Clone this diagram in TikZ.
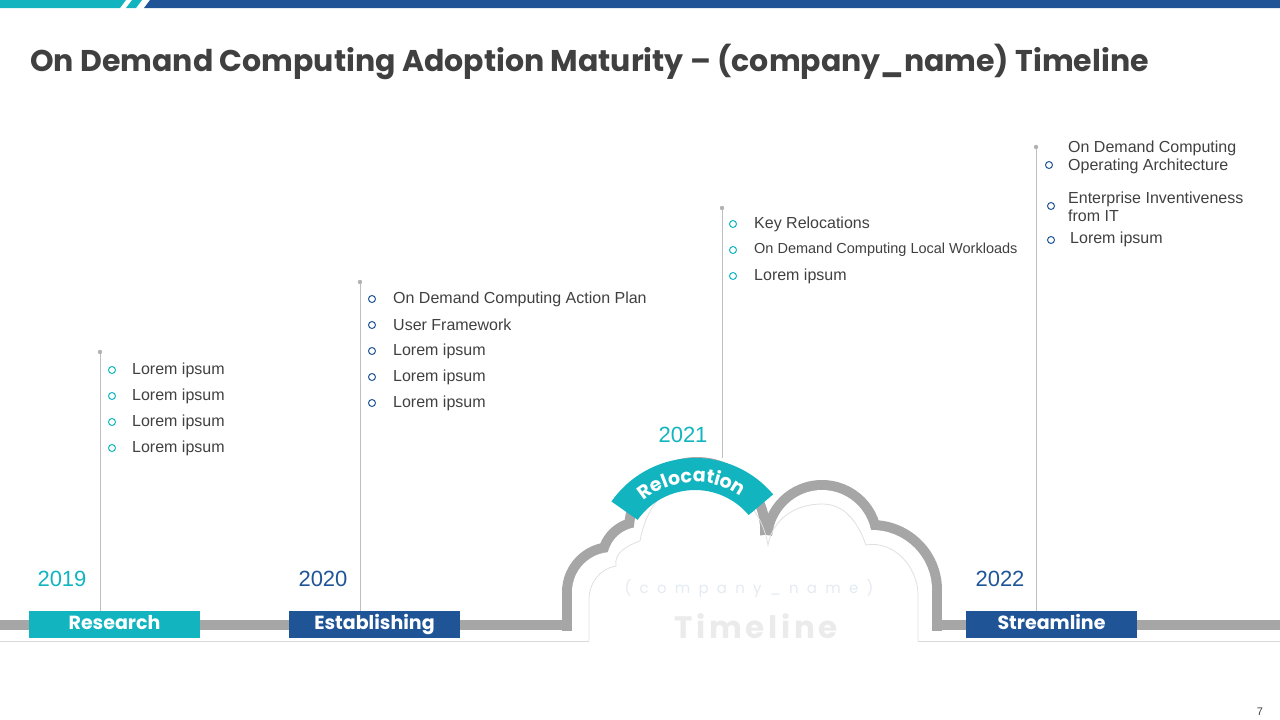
\documentclass[tikz,border=0pt]{standalone}
\usepackage{fontspec}
\setmainfont{Liberation Sans}
\newfontfamily\pop{Poppins}
\usetikzlibrary{decorations.text}
\definecolor{teal}{HTML}{12B5BF}
\definecolor{dblue}{HTML}{1F5597}
\definecolor{bargray}{HTML}{A6A6A6}
\definecolor{ttl}{HTML}{404040}
\tikzset{
  yearbox/.style={minimum width=171pt,minimum height=27pt,inner sep=0pt,text=white,text height=10pt,text depth=0pt,font=\pop\fontsize{19}{19}\selectfont\bfseries},
  stem/.style={draw=black!25,line width=1pt},
  item/.style={anchor=west,font=\fontsize{16}{18}\selectfont,text=ttl,inner sep=0pt},
  bul/.style={circle,draw=#1,line width=1pt,minimum size=7pt,inner sep=0pt},
  year/.style={font=\fontsize{22}{22}\selectfont,text=#1,inner sep=0pt},
  gbar/.style={draw=bargray,line width=10pt}
}
\newcommand{\cloudfill}[2]{%
  \fill[#1] (612,592) circle[radius=50-#2];
  \fill[#1] (640,560) circle[radius=43-#2];
  \fill[#1] (697,530) circle[radius=73-#2];
  \fill[#1] (822,540) circle[radius=60-#2];
  \fill[#1] (872,590) circle[radius=70-#2];
  \fill[#1] (765,625) circle[radius=90-#2];
  \fill[#1] (660,620) circle[radius=60-#2];
  \fill[#1] (765,560) circle[radius=35-#2];
  \fill[#1] (562+#2,592) rectangle (942-#2,700);}
\begin{document}
\begin{tikzpicture}[x=1pt,y=-1pt]
\useasboundingbox (0,0) rectangle (1280,720);
% top bar
\fill[teal] (0,0) -- (126,0) -- (120,8) -- (0,8) -- cycle;
\fill[teal] (132,0) -- (142,0) -- (136,8) -- (126,8) -- cycle;
\fill[dblue] (150,0) -- (1280,0) -- (1280,8) -- (144,8) -- cycle;
\node[anchor=west,inner sep=0pt,text=ttl,font=\pop\fontsize{30}{30}\selectfont\bfseries] (title) at (30,62) {On Demand Computing Adoption Maturity – (company\_name) Timeline};
% cloud
\begin{scope}
\clip (0,0) rectangle (1280,630);
\cloudfill{bargray}{0}
\cloudfill{white}{10}
\end{scope}
\draw[black!12,line width=0.8pt] (589,641) -- (589,600)
  to[out=90,in=190] (616,566) to[out=100,in=200] (640,541)
  to[out=80,in=180] (697,481) to[out=0,in=100] (768,545)
  to[out=80,in=180] (822,504) to[out=0,in=110] (866,545)
  to[out=10,in=90] (918,595) -- (918,641);
% bottom thin line
\draw[black!15,line width=0.8pt] (0,641) -- (589,641) (918,641) -- (1280,641);
% gray bars
\draw[gbar] (0,625) -- (29,625) (200,625) -- (289,625) (460,625) -- (567,625) (937,625) -- (966,625) (1137,625) -- (1280,625);
\node[font=\pop\fontsize{15}{15}\selectfont\addfontfeature{LetterSpace=55},text=dblue!12,inner sep=0pt] (cn) at (749,588) {(company\_name)};
\node[font=\pop\fontsize{31}{31}\selectfont\bfseries\addfontfeature{LetterSpace=12},text=black!8,inner sep=0pt] (tl) at (756,626) {Timeline};
% relocation banner
\fill[teal] (695,560) ++(-145:70) arc[start angle=-145,end angle=-40,radius=70] -- ++(-40:32) arc[start angle=-40,end angle=-145,radius=102] -- cycle;
\path[decorate,decoration={text along path,text align=center,text={|\pop\fontsize{19}{19}\selectfont\bfseries\color{white}|Relocation}}] (695,560) ++(-150:78) arc[start angle=-150,end angle=-35,radius=78];
% boxes
\node[yearbox,fill=teal] (b1) at (114.5,624.5) {Research};
\node[yearbox,fill=dblue] (b2) at (374.5,624.5) {Establishing};
\node[yearbox,fill=dblue] (b4) at (1051.5,624.5) {Streamline};
% years
\node[year=teal] (y1) at (62,579) {2019};
\node[year=dblue] (y2) at (323,579) {2020};
\node[year=teal] (y3) at (683,435) {2021};
\node[year=dblue] (y4) at (1000,579) {2022};
% stems
\coordinate (t1) at (100,352); \coordinate (t2) at (360,282); \coordinate (t3) at (722,208); \coordinate (t4) at (1036,147);
\draw[stem] (t1) -- (100,611); \draw[stem] (t2) -- (360,611); \draw[stem] (t3) -- (722,458); \draw[stem] (t4) -- (1036,611);
\foreach \p in {t1,t2,t3,t4} \fill[black!30] (\p) circle (2.2pt);
% lists 2019
\foreach \yy in {370,396,422,448}{\node[bul=teal] at (112,\yy) {}; \node[item] at (132,\yy) {Lorem ipsum};}
% 2020
\foreach \yy/\tx in {299/On Demand Computing Action Plan,325/User Framework,351/Lorem ipsum,377/Lorem ipsum,403/Lorem ipsum}{\node[bul=dblue] at (372,\yy) {}; \node[item] at (393,\yy) {\tx};}
% 2021
\node[bul=teal] at (733,224) {}; \node[item] at (754,224) {Key Relocations};
\node[bul=teal] at (733,250) {}; \node[item,font=\fontsize{14.5}{16}\selectfont] at (754,250) {On Demand Computing Local Workloads};
\node[bul=teal] at (733,276) {}; \node[item] at (754,276) {Lorem ipsum};
% 2022
\node[bul=dblue] at (1049,165) {}; \node[item,align=left] at (1068,157) {On Demand Computing\\Operating Architecture};
\node[bul=dblue] at (1051,206) {}; \node[item,align=left] at (1068,207) {Enterprise Inventiveness\\from IT};
\node[bul=dblue] at (1051,240) {}; \node[item] at (1070,239) {Lorem ipsum};
\node[font=\fontsize{11}{11}\selectfont,text=ttl] (pg) at (1260,712) {7};
\end{tikzpicture}
\end{document}
